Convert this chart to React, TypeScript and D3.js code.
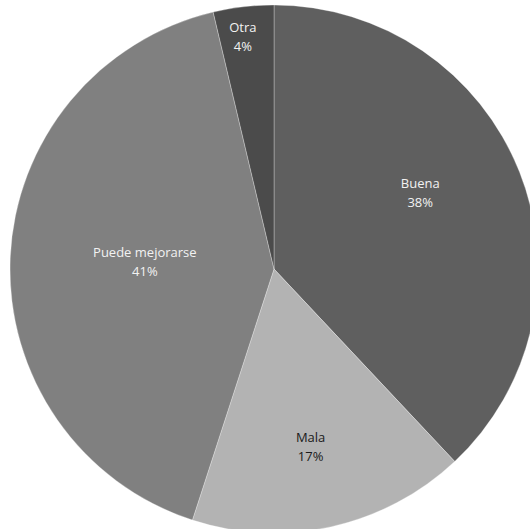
import React from "react";
import * as d3 from "d3";

// Survey answers and their shares
const categories = ["Buena", "Mala", "Puede mejorarse", "Otra"];
const values = [38, 17, 41.3, 3.7];
const fills = ["#5f5f5f", "#b3b3b3", "#808080", "#4b4b4b"];
const labelColors = ["#f2f2f2", "#1a1a1a", "#f2f2f2", "#f2f2f2"];
// Label placement: fraction of the radius and a small angular nudge (degrees)
const labelRadius = [0.625, 0.69, 0.49, 0.885];
const labelShift = [-6, 1, 0.7, -1];

const W = 530;
const H = 529;
const CX = 274;
const CY = 269;
const R = 264;

export default function App() {
  const total = d3.sum(values);
  const pie = d3
    .pie<number>()
    .sort(null)
    .value((d) => d)(values);
  const arc = d3.arc<d3.PieArcDatum<number>>().innerRadius(0).outerRadius(R);

  return (
    <svg
      width={W}
      height={H}
      style={{ position: "absolute", left: 0, top: 0, display: "block", background: "#fff" }}
      fontFamily="'Open Sans', 'Noto Sans', sans-serif"
    >
      <g transform={`translate(${CX},${CY})`}>
        {pie.map((p, i) => (
          <path
            key={categories[i]}
            d={arc(p) || ""}
            fill={fills[i]}
            stroke="#ffffff"
            strokeOpacity={0.6}
            strokeWidth={0.5}
          />
        ))}
        {pie.map((p, i) => {
          const mid = (p.startAngle + p.endAngle) / 2 + (labelShift[i] * Math.PI) / 180;
          const r = R * labelRadius[i];
          const x = Math.sin(mid) * r;
          const y = -Math.cos(mid) * r;
          const pct = Math.round((values[i] / total) * 100);
          return (
            <text
              key={"l" + categories[i]}
              x={x}
              y={y}
              textAnchor="middle"
              fontSize={13}
              fill={labelColors[i]}
            >
              <tspan x={x} dy={-5}>
                {categories[i]}
              </tspan>
              <tspan x={x} dy={19}>
                {pct}%
              </tspan>
            </text>
          );
        })}
      </g>
    </svg>
  );
}
